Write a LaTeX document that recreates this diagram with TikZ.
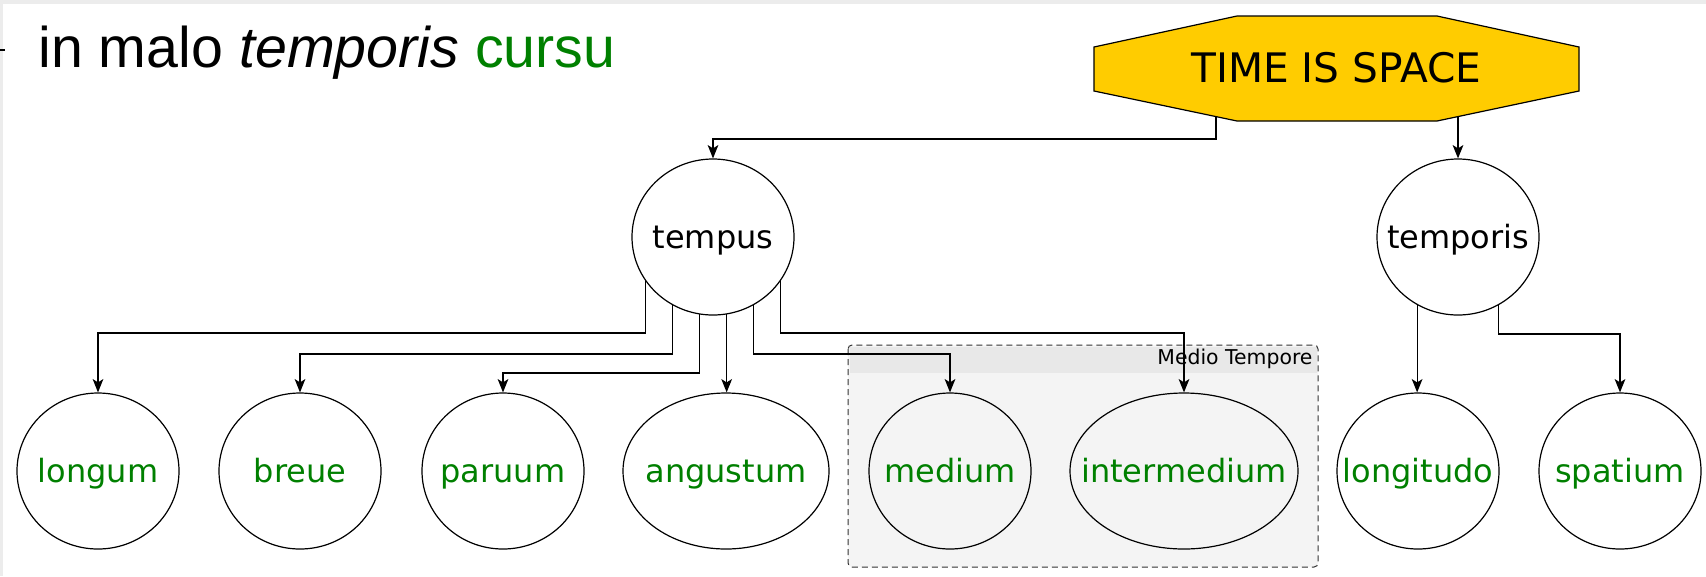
\documentclass[tikz,border=0pt]{standalone}
\usepackage{fontspec}
\setmainfont{DejaVu Sans}
\newfontfamily\titlefont{Liberation Sans}
\usetikzlibrary{shapes.geometric,arrows.meta}

\definecolor{leafgreen}{RGB}{0,128,0}
\definecolor{metaphoryellow}{RGB}{255,204,0}
\definecolor{groupgray}{RGB}{244,244,244}
\definecolor{bandgray}{RGB}{232,232,232}
\definecolor{framegray}{RGB}{236,236,236}

\newcommand{\inword}[1]{\makebox[0pt]{#1}}

\tikzset{every picture/.style={line width=0.75pt}}
\tikzset{
  wordnode/.style={draw, ellipse, line width=0.9pt, inner sep=0pt,
    minimum width=#1, minimum height=117pt,
    text height=19.5pt, text depth=2pt, font=\fontsize{24}{28}\selectfont},
  wordnode/.default=121.5pt,
  leaf/.style={wordnode=#1, text=leafgreen},
  leaf/.default=121.5pt,
  conn/.style={line width=0.9pt, -{Stealth[length=10pt,width=8pt,inset=2.5pt]}}
}

\begin{document}
\begin{tikzpicture}[x=0.75pt,y=0.75pt,yscale=-1,xscale=1]
\useasboundingbox (0,0) rectangle (1706,576);

%Frame
\fill[framegray] (0,0) rectangle (1706,576);
\fill[white] (3,4) rectangle (1706,576);
\draw[line width=1.5pt] (0,50) -- (5,50);

% Title
\node[anchor=base west, inner sep=0pt, font=\titlefont\fontsize{43}{50}\selectfont] (title) at (38,67) {in malo \textit{temporis} \textcolor{leafgreen}{cursu}};

%Group: Medio Tempore
\fill[groupgray, rounded corners=3pt] (848,345) rectangle (1318,567);
\fill[bandgray] (849.5,346.5) rectangle (1316.5,373);
\draw[dash pattern=on 4.5pt off 3pt, draw={rgb,255:red,51;green,51;blue,51}, rounded corners=3pt] (848,345) rectangle (1318,567);
\node[anchor=east, inner sep=0pt, font=\fontsize{15.3}{18}\selectfont] (medio) at (1313,359) {Medio Tempore};

%Octagon
\draw[fill=metaphoryellow, line width=0.9pt] (1094,47) -- (1237,16) -- (1437,16) -- (1579,47) -- (1579,91) -- (1437,121) -- (1237,121) -- (1094,91) -- cycle;
\node[font=\fontsize{30.5}{36}\selectfont] (space) at (1336.5,68) {TIME IS SPACE};
\coordinate (octL) at (1216,116.6);
\coordinate (octR) at (1458,116.6);

%Shape: Ellipses
\node[wordnode] (tempus) at (713,237) {\inword{tempus}};
\node[wordnode] (temporis) at (1458,237) {\inword{temporis}};
\node[leaf] (longum) at (98,471) {\inword{longum}};
\node[leaf] (breue) at (300,471) {\inword{breue}};
\node[leaf] (paruum) at (503,471) {\inword{paruum}};
\node[leaf=154.5pt] (angustum) at (726,471) {\inword{angustum}};
\node[leaf] (medium) at (950,471) {\inword{medium}};
\node[leaf=171pt] (intermedium) at (1184,471) {\inword{intermedium}};
\node[leaf] (longitudo) at (1418,471) {\inword{longitudo}};
\node[leaf] (spatium) at (1620,471) {\inword{spatium}};

%Bus levels
\coordinate (busT) at (0,139);
\coordinate (busA) at (0,333);
\coordinate (busB) at (0,354);
\coordinate (busC) at (0,373);
\coordinate (busR) at (0,334);

%Connectors
\draw[conn] (octL) -- (octL |- busT) -| (tempus.north);
\draw[conn] (octR) -- (temporis.north);
\draw[conn] (tempus.213) -- (tempus.213 |- busA) -| (longum.north);
\draw[conn] (tempus.239) -- (tempus.239 |- busB) -| (breue.north);
\draw[conn] (tempus.260) -- (tempus.260 |- busC) -| (paruum.north);
\draw[conn] (tempus.280) -- (tempus.280 |- angustum.north);
\draw[conn] (tempus.301) -- (tempus.301 |- busB) -| (medium.north);
\draw[conn] (tempus.327) -- (tempus.327 |- busA) -| (intermedium.north);
\draw[conn] (temporis.239) -- (temporis.239 |- longitudo.north);
\draw[conn] (temporis.301) -- (temporis.301 |- busR) -| (spatium.north);

\end{tikzpicture}
\end{document}
